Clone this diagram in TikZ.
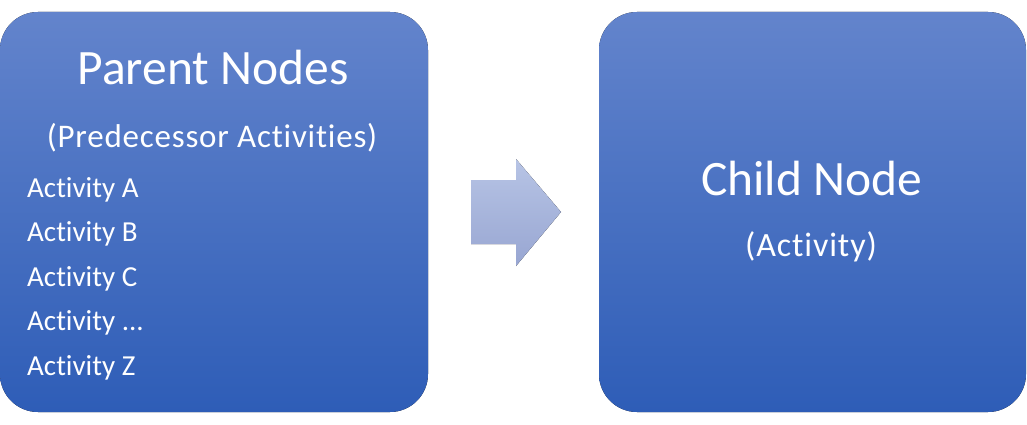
\documentclass[tikz,border=0pt]{standalone}
\usepackage{fontspec}
\setmainfont{Carlito}[RawFeature=-liga]
\definecolor{boxtop}{HTML}{6384CC}
\definecolor{boxbot}{HTML}{2E5DB7}
\definecolor{arrtop}{HTML}{B7C4E5}
\definecolor{arrbot}{HTML}{98A6D2}
\tikzset{
  bigbox/.style={rounded corners=38pt, top color=boxtop, bottom color=boxbot, draw=none},
  title/.style={text=white, font=\fontsize{49.5}{56}\selectfont, anchor=base, inner sep=0pt},
  subtitle/.style={text=white, font=\fontsize{34}{38}\selectfont\addfontfeatures{LetterSpace=2.6}, anchor=base, inner sep=0pt},
  item/.style={text=white, font=\fontsize{29}{34}\selectfont, anchor=base west, inner sep=0pt},
}
\begin{document}
\begin{tikzpicture}[x=1pt,y=-1pt]
\useasboundingbox (0,0) rectangle (1027,425);
\fill[bigbox] (0,12) rectangle (428,412);
\fill[bigbox] (599,12) rectangle (1026,412);
\node[title] (parent) at (213,85) {Parent Nodes};
\node[subtitle, font=\fontsize{33}{38}\selectfont\addfontfeatures{LetterSpace=2.4}] (pred) at (212,147) {(Predecessor\hspace{0.25em}Activities)};
\node[item] (a) at (27,197) {Activity A};
\node[item] (b) at (27,241.5) {Activity B};
\node[item] (c) at (27,286) {Activity C};
\node[item] (d) at (27,330.5) {Activity ...};
\node[item] (z) at (27,375) {Activity Z};
\node[title] (child) at (811.5,195) {Child Node};
\node[subtitle] (act) at (811,256) {(Activity)};
\fill[top color=arrtop, bottom color=arrbot] (471,180) -- (516,180) -- (516,159) -- (561,212) -- (516,266) -- (516,244) -- (471,244) -- cycle;
\end{tikzpicture}
\end{document}
